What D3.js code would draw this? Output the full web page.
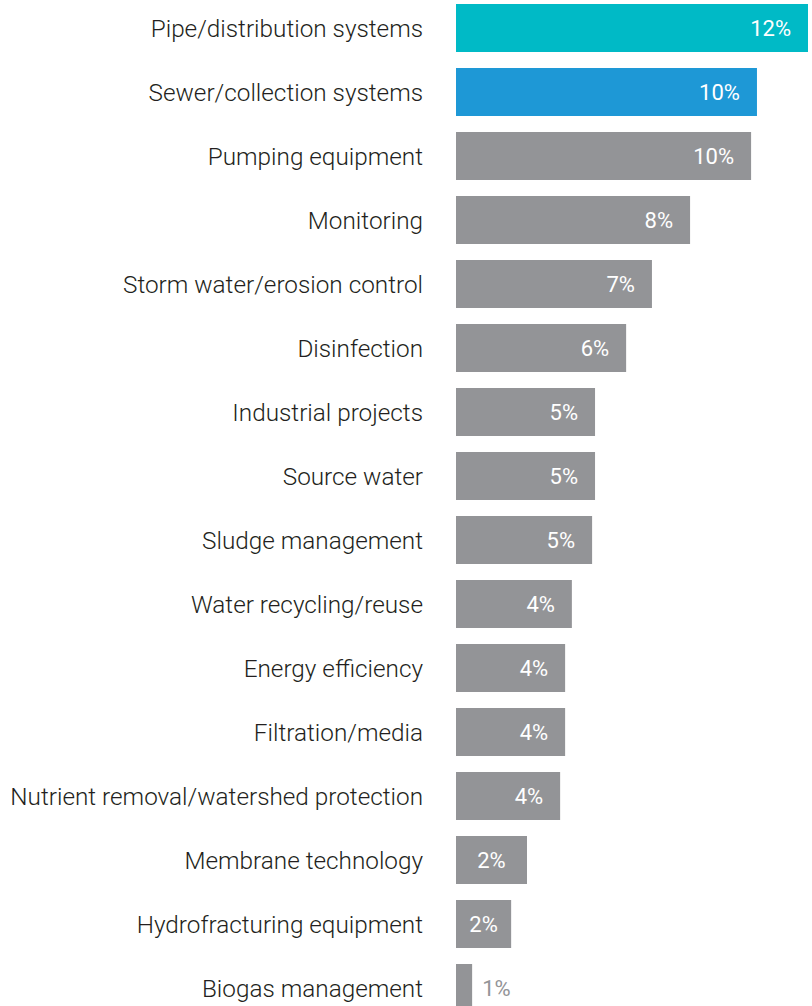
<!DOCTYPE html>
<html>
<head>
<meta charset="utf-8">
<script src="https://cdn.jsdelivr.net/npm/d3@7"></script>
<style>
  body { margin: 0; background: #fff; }
  text { font-family: Roboto, "Noto Sans", sans-serif; }
</style>
</head>
<body>
<div id="chart"></div>
<script>
// values (labels are rounded in the source)
const categories = [
  "Pipe/distribution systems", "Sewer/collection systems", "Pumping equipment",
  "Monitoring", "Storm water/erosion control", "Disinfection", "Industrial projects",
  "Source water", "Sludge management", "Water recycling/reuse", "Energy efficiency",
  "Filtration/media", "Nutrient removal/watershed protection", "Membrane technology",
  "Hydrofracturing equipment", "Biogas management"
]
const values = [12.0, 10.26, 10.06, 7.98, 6.68, 5.8, 4.74, 4.74, 4.64, 3.95, 3.72, 3.72, 3.55, 2.42, 1.88, 0.55]
const valueLabels = ["12%", "10%", "10%", "8%", "7%", "6%", "5%", "5%", "5%", "4%", "4%", "4%", "4%", "2%", "2%", "1%"]

const data = categories.map((c, i) => ({ name: c, value: values[i], label: valueLabels[i], i: i }))

const width = 812
const height = 1006
const margin = { top: 4, left: 456 }
const step = 64

const svg = d3.select("#chart").append("svg")
    .attr("width", width)
    .attr("height", height)

const x = d3.scaleLinear()
  .domain([0, 12])
  .range([margin.left, 808])

// 48px bars on a 64px step
const y = d3.scaleBand()
  .domain(categories)
  .range([margin.top, margin.top + step * categories.length - 16])
  .paddingInner(16 / step)
  .paddingOuter(0)

const color = d => d.i === 0 ? "#00bac6" : (d.i === 1 ? "#1e98d6" : "#939497")

svg.selectAll("rect")
  .data(data)
  .join("rect")
  .attr("x", x(0))
  .attr("y", d => y(d.name))
  .attr("width", d => x(d.value) - x(0))
  .attr("height", y.bandwidth())
  .attr("fill", color)

// category labels
svg.selectAll(".cat")
  .data(data)
  .join("text")
  .attr("class", "cat")
  .attr("x", 423)
  .attr("y", d => y(d.name) + y.bandwidth() / 2)
  .attr("dy", "0.38em")
  .attr("text-anchor", "end")
  .attr("font-size", 24.3)
  .attr("font-weight", 300)
  .attr("fill", "#231f20")
  .text(d => d.name)

// value labels: inside the bar, or just outside if too thin
svg.selectAll(".val")
  .data(data)
  .join("text")
  .attr("class", "val")
  .attr("x", d => {
    const w = x(d.value) - x(0)
    if (w < 30) return x(d.value) + 10
    if (w < 80) return (x(0) + x(d.value)) / 2
    return x(d.value) - 17
  })
  .attr("y", d => y(d.name) + y.bandwidth() / 2)
  .attr("dy", "0.35em")
  .attr("text-anchor", d => {
    const w = x(d.value) - x(0)
    if (w < 30) return "start"
    if (w < 80) return "middle"
    return "end"
  })
  .attr("font-size", 22)
  .attr("fill", d => (x(d.value) - x(0)) < 30 ? "#939497" : "#fff")
  .text(d => d.label)
</script>
</body>
</html>
